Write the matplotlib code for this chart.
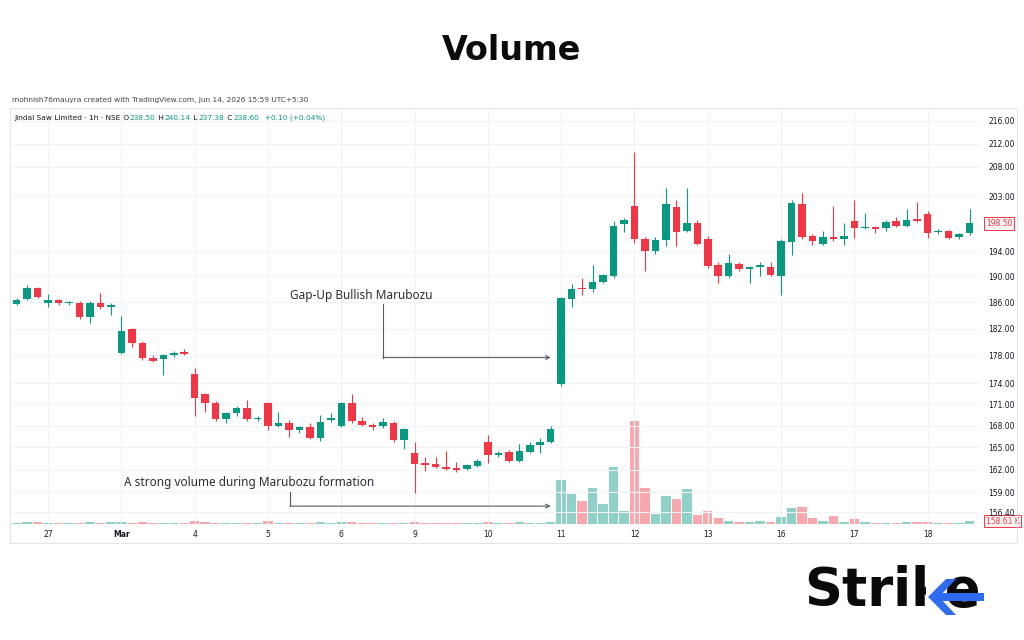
import numpy as np
import matplotlib.pyplot as plt
from matplotlib.ticker import FixedLocator, NullLocator, FuncFormatter
from matplotlib.patches import Rectangle, Polygon

# hourly candles, Jindal Saw (NSE), 26 Feb .. 18 Mar
opens = [185.7, 186.5, 188.2, 185.8, 186.3, 185.8, 185.9, 183.7, 185.9, 185.3,
         178.3, 181.9, 179.9, 177.7, 177.5, 178.1, 178.5,
         175.3, 172.4, 171.2, 168.9, 169.7, 170.5, 168.9,
         171.1, 168.0, 168.4, 167.4, 167.8, 166.3, 168.8,
         168.0, 171.1, 168.7, 168.1, 167.9, 168.4, 166.0,
         164.2, 162.9, 162.8, 162.4, 162.2, 162.1, 162.5,
         165.8, 164.0, 164.4, 163.2, 164.4, 165.3, 165.7,
         173.8, 186.5, 188.2, 188.0, 189.1, 190.0, 198.4,
         201.4, 195.9, 194.0, 195.8, 201.2, 197.3, 198.6,
         195.9, 191.8, 190.0, 191.9, 191.1, 191.5, 191.5,
         190.0, 195.4, 201.7, 196.4, 195.2, 196.2, 195.9,
         198.9, 197.7, 197.9, 197.7, 198.9, 198.1, 199.2,
         200.1, 197.0, 197.2, 196.2, 196.9]
highs = [186.6, 188.7, 188.4, 187.3, 186.5, 186.2, 186.1, 186.1, 187.4, 185.8,
         183.9, 182.1, 180.1, 178.0, 178.2, 178.6, 178.9,
         176.1, 172.6, 171.4, 169.9, 170.8, 171.6, 169.3,
         171.3, 169.9, 168.8, 168.0, 168.4, 169.5, 169.7,
         171.3, 172.5, 169.2, 168.3, 169.1, 168.6, 167.7,
         165.7, 163.7, 163.7, 164.5, 163.0, 162.8, 163.4,
         166.7, 164.5, 164.6, 165.5, 165.7, 166.3, 168.0,
         186.8, 188.8, 189.8, 191.8, 190.4, 198.9, 199.4,
         210.5, 196.2, 196.3, 204.4, 202.3, 204.4, 199.1,
         196.5, 192.2, 193.5, 192.2, 191.7, 192.3, 192.2,
         196.0, 202.3, 203.6, 196.8, 197.3, 201.4, 198.6,
         202.4, 200.2, 198.1, 199.0, 199.5, 200.9, 202.0,
         200.6, 197.6, 197.4, 196.9, 200.9]
lows = [185.5, 186.3, 186.6, 185.2, 185.6, 185.6, 183.5, 182.8, 185.0, 184.0,
        178.2, 179.2, 177.4, 177.0, 175.1, 177.8, 178.0,
        169.4, 169.9, 168.7, 168.4, 169.4, 168.7, 168.7,
        167.4, 167.8, 166.4, 167.0, 166.1, 165.9, 168.5,
        167.8, 168.4, 167.9, 167.4, 167.6, 165.8, 164.8,
        158.9, 161.8, 162.2, 161.9, 161.7, 161.9, 162.3,
        162.9, 163.7, 163.0, 163.0, 164.2, 164.2, 165.6,
        173.6, 185.2, 187.1, 187.6, 188.9, 189.8, 197.0,
        195.3, 190.8, 193.5, 194.8, 194.8, 197.0, 194.9,
        191.3, 188.9, 189.8, 190.9, 189.0, 190.1, 190.0,
        187.1, 193.4, 195.9, 195.0, 194.9, 195.7, 195.0,
        196.1, 197.5, 196.9, 197.3, 197.9, 197.9, 198.7,
        196.1, 196.7, 195.9, 196.0, 196.6]
closes = [186.4, 188.2, 186.8, 186.3, 185.9, 185.9, 183.7, 185.9, 185.3, 185.6,
          181.6, 179.9, 177.6, 177.2, 178.0, 178.4, 178.2,
          171.8, 171.2, 168.9, 169.7, 170.5, 168.9, 169.1,
          168.0, 168.4, 167.4, 167.8, 166.3, 168.5, 169.1,
          171.1, 168.7, 168.1, 167.8, 168.5, 166.0, 167.5,
          162.8, 162.6, 162.4, 162.1, 161.9, 162.6, 163.1,
          164.0, 164.3, 163.2, 164.5, 165.3, 165.7, 167.5,
          186.6, 188.0, 188.0, 189.1, 190.2, 198.1, 199.0,
          195.9, 194.0, 195.8, 201.7, 197.0, 198.6, 195.1,
          191.6, 190.0, 192.1, 191.1, 191.5, 191.8, 190.2,
          195.6, 201.9, 196.2, 195.6, 196.3, 195.9, 196.4,
          197.7, 197.9, 197.6, 198.7, 198.1, 199.1, 198.9,
          196.9, 197.3, 196.1, 196.7, 198.6]
# volume in thousands of shares
volume = [60, 110, 80, 40, 50, 30, 70, 120, 60, 90,
          130, 70, 90, 40, 60, 50, 40,
          150, 90, 60, 50, 60, 70, 40,
          140, 60, 70, 40, 60, 90, 50,
          100, 80, 50, 40, 60, 70, 60,
          130, 60, 50, 60, 40, 50, 70,
          90, 50, 60, 80, 60, 50, 90,
          2330, 1590, 1220, 1910, 1060, 3020, 690,
          5460, 1910, 530, 1480, 1325, 1855, 480,
          690, 320, 160, 80, 106, 160, 80,
          370, 850, 900, 320, 160, 420, 106,
          265, 106, 55, 55, 55, 106, 80,
          80, 55, 55, 55, 158.61]

day_starts = [3, 10, 17, 24, 31, 38, 45, 52, 59, 66, 73, 80, 87]
day_labels = ['27', 'Mar', '4', '5', '6', '9', '10', '11', '12', '13', '16', '17', '18']
price_ticks = [216, 212, 208, 203, 194, 190, 186, 182, 178, 174, 171, 168, 165, 162, 159, 156.4]
last_price = 198.50
last_volume = 158.61

green = '#089981'
red = '#f23645'
txt = '#131722'

o = np.array(opens)
h = np.array(highs)
l = np.array(lows)
c = np.array(closes)
v = np.array(volume)
x = np.arange(len(o))
up = c >= o
cols = np.where(up, green, red)
vcols = np.where(up, '#8fd1c6', '#f8a8ac')

fig = plt.figure(figsize=(10.24, 6.4), dpi=100)
fx = lambda p: p / 1024
fy = lambda p: 1 - p / 640

# chart frame
fig.patches.append(Rectangle((fx(10), fy(543)), fx(1017 - 10), (543 - 108) / 640,
                             transform=fig.transFigure, fill=False, ec='#e3e5ea', lw=0.8))

ax = fig.add_axes([fx(12), fy(524), (980 - 12) / 1024, (524 - 108) / 640])
ax2 = ax.twinx()
ax.set_zorder(ax2.get_zorder() + 1)
ax.patch.set_visible(False)

# volume
ax2.bar(x, v, width=0.9, color=vcols, linewidth=0)
ax2.set_ylim(0, v.max() * 416 / 103)
ax2.set_yticks([])
for s in ax2.spines.values():
    s.set_visible(False)

# candles
ax.set_yscale('log')
ax.vlines(x, l, h, colors=cols, linewidth=0.8, zorder=3)
body_lo = np.minimum(o, c)
body_h = np.maximum(np.abs(c - o), 0.18)
ax.bar(x, body_h, bottom=body_lo, width=0.72, color=cols, linewidth=0, zorder=4)

ax.set_xlim(-0.45, 92.0)
ax.set_ylim(154.9, 218.3)
ax.yaxis.set_major_locator(FixedLocator(price_ticks))
ax.yaxis.set_minor_locator(NullLocator())
ax.yaxis.set_major_formatter(FuncFormatter(lambda val, pos: f'{val:.2f}'))
ax.yaxis.set_minor_formatter(FuncFormatter(lambda val, pos: ''))
ax.yaxis.tick_right()
ax.tick_params(axis='y', length=0, pad=6, labelsize=5.5, labelcolor=txt)
ax.set_xticks(day_starts)
ax.set_xticklabels(day_labels)
ax.tick_params(axis='x', length=0, pad=4, labelsize=5.5, labelcolor=txt)
ax.get_xticklabels()[1].set_fontweight('bold')
ax.grid(True, color='#f1f2f5', linewidth=0.8)
ax.set_axisbelow(True)
for s in ax.spines.values():
    s.set_visible(False)

# last price / last volume labels
ax.text(1.006, last_price, f'{last_price:.2f}', transform=ax.get_yaxis_transform(),
        fontsize=5.5, color=red, va='center', ha='left',
        bbox=dict(boxstyle='square,pad=0.25', fc='#fff5f5', ec=red, lw=0.7))
ax2.text(1.006, last_volume, f'{last_volume:.2f} K', transform=ax2.get_yaxis_transform(),
         fontsize=5.5, color=red, va='center', ha='left',
         bbox=dict(boxstyle='square,pad=0.25', fc='#fff5f5', ec=red, lw=0.7))

# annotations
ann = '#2a2e39'
ax.text(26.1, 187.1, 'Gap-Up Bullish Marubozu', fontsize=8.5, color=ann,
        family='Noto Sans', va='center', ha='left')
ax.plot([35.0, 35.0], [185.7, 177.7], color='#555a66', lw=0.8)
ax.annotate('', xy=(51.0, 177.7), xytext=(35.0, 177.7),
            arrowprops=dict(arrowstyle='->', color='#555a66', lw=0.8, mutation_scale=7,
                            shrinkA=0, shrinkB=0))
ax.text(10.25, 160.3, 'A strong volume during Marubozu formation', fontsize=8.5,
        color=ann, family='Noto Sans', va='center', ha='left')
ax.plot([26.1, 26.1], [159.0, 157.2], color='#555a66', lw=0.8)
ax.annotate('', xy=(51.0, 157.2), xytext=(26.1, 157.2),
            arrowprops=dict(arrowstyle='->', color='#555a66', lw=0.8, mutation_scale=7,
                            shrinkA=0, shrinkB=0))

# title and header
fig.text(0.5, fy(50), 'Volume', ha='center', va='center', fontsize=24,
         fontweight='bold', color='#0b0b0b')
fig.text(fx(12), fy(100), 'mohnish76mauyra created with TradingView.com, Jun 14, 2026 15:59 UTC+5:30',
         fontsize=5.3, color='#444', va='center')
prev = fig.text(fx(14), fy(118), 'Jindal Saw Limited · 1h · NSE', fontsize=5.3,
                color=txt, va='center')
pieces = [(' O', txt), ('238.50', green), (' H', txt), ('240.14', green),
          (' L', txt), ('237.38', green), (' C', txt), ('238.60', green),
          ('  +0.10 (+0.04%)', green)]
for s, col in pieces:
    prev = ax.annotate(s, xy=(1, 0.5), xycoords=prev, xytext=(0.5, 0),
                       textcoords='offset points', fontsize=5.3, color=col,
                       va='center', ha='left', annotation_clip=False)

# Strike logo: black word, k arms replaced by a blue arrow
fig.text(fx(804), fy(591), 'Strike', fontsize=38, fontweight='heavy', color='#0a0a0a',
         va='center', ha='left', zorder=1)
blue = '#2f6bef'
fig.patches.append(Rectangle((fx(926), fy(616)), fx(947 - 926), 40 / 640,
                             transform=fig.transFigure, fc='white', ec='none', zorder=2))
fig.patches.append(Polygon([[fx(946), fy(579)], [fx(928), fy(597)], [fx(946), fy(615)],
                            [fx(956), fy(615)], [fx(939), fy(597)], [fx(956), fy(579)]],
                           closed=True, transform=fig.transFigure, fc=blue, ec='none', zorder=3))
fig.patches.append(Rectangle((fx(936), fy(601)), fx(984 - 936), 8 / 640,
                             transform=fig.transFigure, fc=blue, ec='none', zorder=3))

fig.savefig('out.png', dpi=100, facecolor='white')
